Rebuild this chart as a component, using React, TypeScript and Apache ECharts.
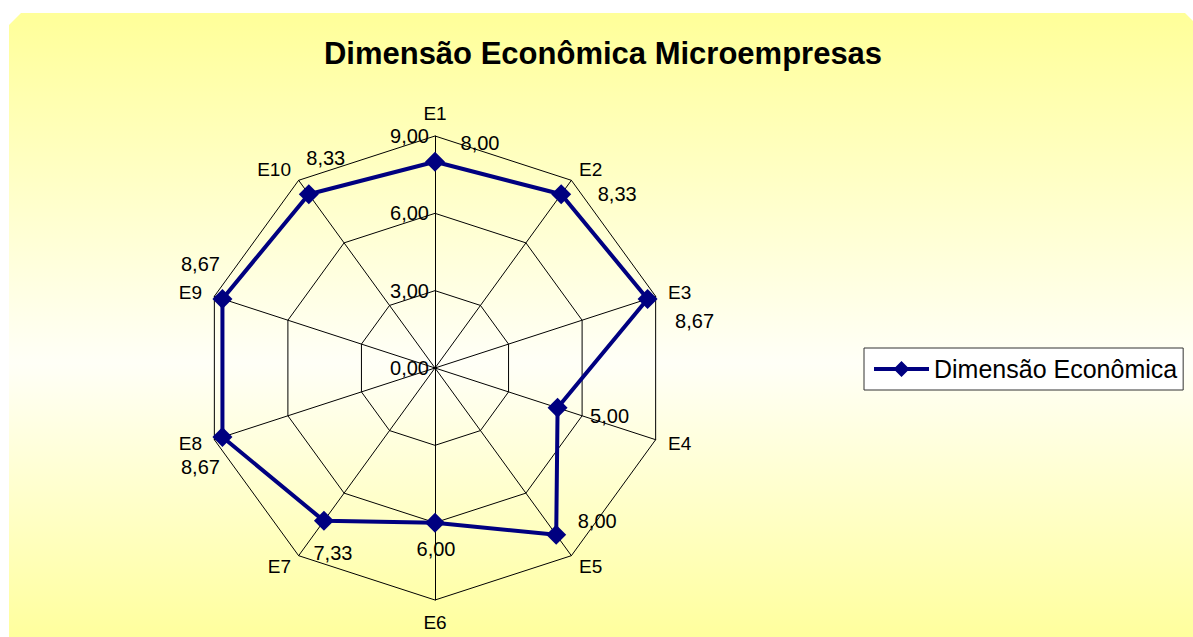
import React, { useEffect, useRef } from 'react';
import * as echarts from 'echarts';

const categories = ['E1', 'E2', 'E3', 'E4', 'E5', 'E6', 'E7', 'E8', 'E9', 'E10'];
const values = [8.0, 8.33, 8.67, 5.0, 8.0, 6.0, 7.33, 8.67, 8.67, 8.33];
const axisMin = 0;
const axisMax = 9;
const axisSplits = 3;
const seriesName = 'Dimensão Econômica';
const titleText = 'Dimensão Econômica Microempresas';

// per-category label offsets (style only), E1..E10
const labelOffsets = [
  [45, -19], [56, 0], [47, 22], [52, 8], [41, -14],
  [1, 26], [9, 32], [-22, 30], [-22, -35], [17, -36],
];

const FONT = '"Liberation Sans", Arial, Helvetica, sans-serif';
const CENTER = [435, 368];
const RADIUS = 232;

const fmt = (v: number) => Number(v).toFixed(2).replace('.', ',');

export default function App() {
  const ref = useRef<HTMLDivElement>(null);
  useEffect(() => {
    if (!ref.current) return;
    const chart = echarts.init(ref.current, undefined, { renderer: 'svg' });
    // ECharts radar runs counter-clockwise; reorder so E1..E10 go clockwise
    const order = [0, ...categories.map((_, i) => categories.length - 1 - i).slice(0, categories.length - 1)];
    const indicator = order.map((i, k) => ({
      name: categories[i],
      min: axisMin,
      max: axisMax,
      ...(k === 0
        ? {
            axisLabel: {
              show: true,
              color: '#000',
              fontSize: 20,
              fontFamily: FONT,
              margin: 6,
              formatter: (v: number) => fmt(v),
            },
          }
        : {}),
    }));
    const n = categories.length;
    chart.setOption({
      animation: false,
      graphic: {
        elements: [
          {
            type: 'polygon',
            z: -100,
            silent: true,
            shape: {
              points: [
                [9, 25], [21, 13], [1185, 13], [1200, 28], [1200, 650], [22, 650], [9, 637],
              ],
            },
            style: {
              fill: {
                type: 'linear', x: 0, y: 0, x2: 0, y2: 1,
                colorStops: [
                  { offset: 0, color: '#FFFF99' },
                  { offset: 0.55, color: '#FFFFF7' },
                  { offset: 1, color: '#FFFF99' },
                ],
              },
            },
          },
          {
            type: 'text',
            x: 603,
            y: 53,
            z: 10,
            style: {
              text: titleText,
              fill: '#000',
              font: `bold 31px ${FONT}`,
              textAlign: 'center',
              textVerticalAlign: 'middle',
            },
          },
        ],
      },
      legend: {
        left: 864,
        top: 348,
        data: [
          {
            name: seriesName,
            icon: 'path://M0,6 L21.5,6 L27.5,0 L33.5,6 L55,6 L55,10 L33.5,10 L27.5,16 L21.5,10 L0,10 Z',
          },
        ],
        itemWidth: 55,
        itemHeight: 16,
        itemStyle: { color: '#000080', borderWidth: 0 },
        lineStyle: { width: 0 },
        backgroundColor: '#fff',
        borderColor: '#333',
        borderWidth: 1,
        borderRadius: 0,
        padding: [8, 6, 8, 10],
        textStyle: { color: '#000', fontSize: 25, fontFamily: FONT, lineHeight: 26 },
      },
      radar: {
        center: CENTER,
        radius: RADIUS,
        startAngle: 90,
        shape: 'polygon',
        splitNumber: axisSplits,
        nameGap: 13,
        axisName: { color: '#000', fontSize: 19, fontFamily: FONT },
        axisLine: { lineStyle: { color: '#000', width: 1 } },
        splitLine: { lineStyle: { color: '#000', width: 1 } },
        splitArea: { show: false },
        axisTick: { show: false },
        axisLabel: { show: false },
        indicator,
      },
      series: [
        {
          type: 'radar',
          name: seriesName,
          symbol: 'diamond',
          symbolSize: 20,
          lineStyle: { color: '#000080', width: 4 },
          itemStyle: { color: '#000080' },
          label: {
            show: true,
            position: 'inside',
            color: '#000',
            fontSize: 20,
            fontFamily: FONT,
            textBorderWidth: 0,
            formatter: (p: any) => fmt(p.value),
          },
          labelLayout: (params: any) => {
            const r = params.rect;
            const cx = r.x + r.width / 2;
            const cy = r.y + r.height / 2;
            const deg = (Math.atan2(CENTER[1] - cy, cx - CENTER[0]) * 180) / Math.PI;
            const cw = (((90 - deg) % 360) + 360) % 360;
            const k = Math.round(cw / (360 / n)) % n;
            const off = labelOffsets[k] || [0, 0];
            return { dx: off[0], dy: off[1] };
          },
          data: [{ name: seriesName, value: order.map((i) => values[i]) }],
        },
      ],
    });
    return () => chart.dispose();
  }, []);
  return (
    <div
      ref={ref}
      style={{ position: 'absolute', left: 0, top: 0, width: 1193, height: 637, background: '#fff' }}
    />
  );
}
